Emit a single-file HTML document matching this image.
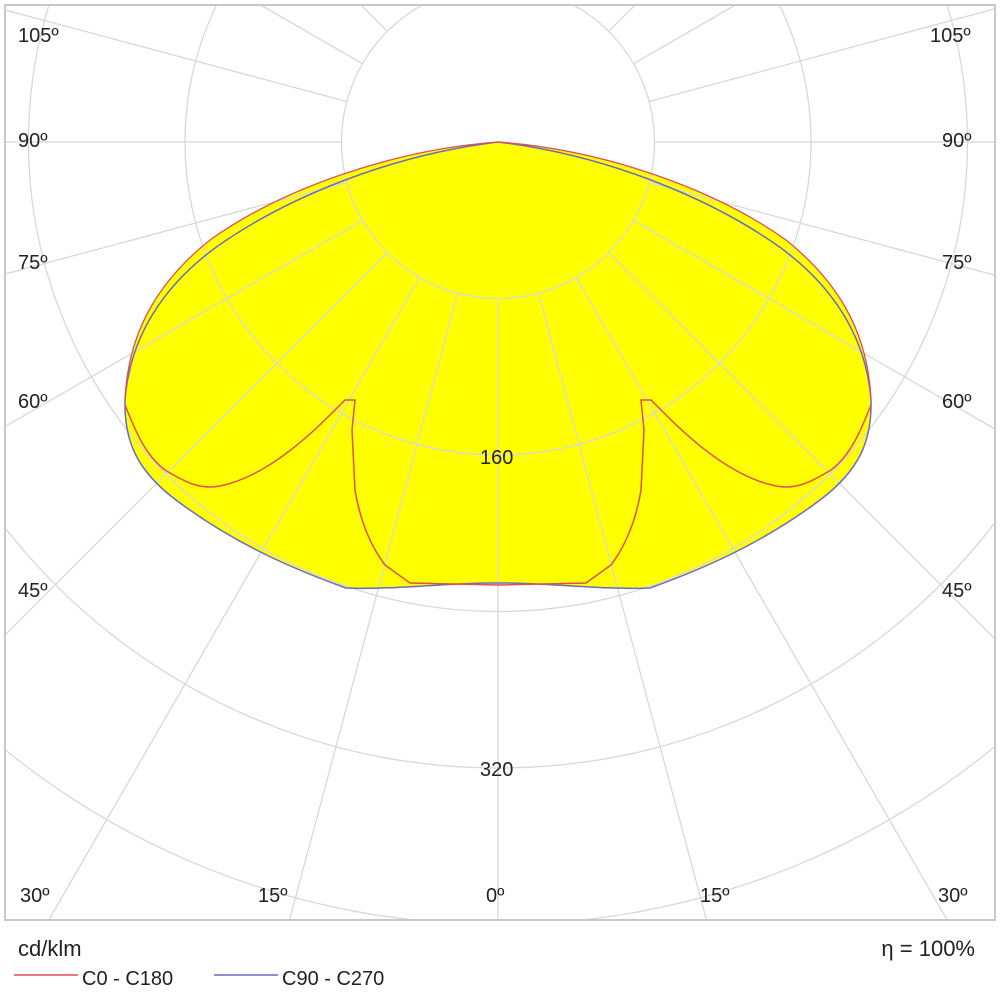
<!DOCTYPE html>
<html><head><meta charset="utf-8"><style>
html,body{margin:0;padding:0;background:#fff;width:1000px;height:1002px;overflow:hidden;}
svg{display:block;font-family:"Liberation Sans",sans-serif;}
</style></head><body>
<svg width="1000" height="1002" viewBox="0 0 1000 1002" xmlns="http://www.w3.org/2000/svg">
<defs><clipPath id="c"><rect x="5" y="5" width="990" height="915"/></clipPath></defs>
<rect x="0" y="0" width="1000" height="1002" fill="#fff"/>
<g clip-path="url(#c)">
<path fill="#ffff00" stroke="none" d="M125,400 C128,330 160,280 210,240 C280,190 390,150 498,142 C606,150 716,190 786,240 C836,280 868,330 871,400 C872,440 860,470 820,500 C760,545 700,570 650,588 C600,590 540,582 498,583 C456,582 396,590 346,588 C296,570 236,545 176,500 C136,470 124,440 125,400 Z"/>
<g stroke="#d8d8d8" stroke-width="1.3" fill="none">
<circle cx="498" cy="142" r="156.5"/>
<circle cx="498" cy="142" r="313"/>
<circle cx="498" cy="142" r="469.5"/>
<circle cx="498" cy="142" r="626"/>
<circle cx="498" cy="142" r="782.5"/>
<line x1="498" y1="298.5" x2="498" y2="920"/>
<line x1="538.5" y1="293.2" x2="706.5" y2="920"/>
<line x1="457.5" y1="293.2" x2="289.5" y2="920"/>
<line x1="576.3" y1="277.5" x2="947.2" y2="920"/>
<line x1="419.7" y1="277.5" x2="48.8" y2="920"/>
<line x1="608.7" y1="252.7" x2="995" y2="639"/>
<line x1="387.3" y1="252.7" x2="5" y2="635"/>
<line x1="633.5" y1="220.3" x2="995" y2="429"/>
<line x1="362.5" y1="220.3" x2="5" y2="426.6"/>
<line x1="649.2" y1="182.5" x2="995" y2="275.2"/>
<line x1="346.8" y1="182.5" x2="5" y2="274.1"/>
<line x1="654.5" y1="142" x2="995" y2="142"/>
<line x1="341.5" y1="142" x2="5" y2="142"/>
<line x1="649.2" y1="101.5" x2="995" y2="8.8"/>
<line x1="346.8" y1="101.5" x2="5" y2="9.9"/>
<line x1="633.5" y1="63.7" x2="735.3" y2="5"/>
<line x1="362.5" y1="63.7" x2="260.7" y2="5"/>
<line x1="608.7" y1="31.3" x2="635" y2="5"/>
<line x1="387.3" y1="31.3" x2="361" y2="5"/>
</g>
<path fill="none" stroke="#6a6ac8" stroke-width="1.5" d="M125,400 C130,335 165,285 215,248 C285,198 390,155 498,142 C606,155 711,198 781,248 C831,285 866,335 871,400 C872,440 860,470 820,500 C760,545 700,570 650,588 C600,590 540,582 498,583 C456,582 396,590 346,588 C296,570 236,545 176,500 C136,470 124,440 125,400"/>
<path fill="none" stroke="#e05050" stroke-width="1.3" d="M125,400 C128,330 160,280 210,240 C280,190 390,150 498,142 C606,150 716,190 786,240 C836,280 868,330 871,400"/>
<path fill="none" stroke="#e05050" stroke-width="1.5" d="M125,405 C135,430 145,455 165,470 C185,482 200,490 220,486 C260,478 300,445 330,415 L345,400 L355,400 L352,430 L355,490 C360,520 370,545 385,565 L410,583 L498,585 L586,583 L611,565 C626,545 636,520 641,490 L644,430 L641,400 L651,400 L666,415 C696,445 736,478 776,486 C796,490 811,482 831,470 C851,455 861,430 871,405"/>
</g>
<rect x="5" y="5" width="990" height="915" fill="none" stroke="#c8c8c8" stroke-width="2"/>
<g font-size="20" fill="#222">
<text x="18" y="42">105º</text><text x="930" y="42">105º</text>
<text x="18" y="147">90º</text><text x="942" y="147">90º</text>
<text x="18" y="269">75º</text><text x="942" y="269">75º</text>
<text x="18" y="408">60º</text><text x="942" y="408">60º</text>
<text x="18" y="597">45º</text><text x="942" y="597">45º</text>
<text x="20" y="902">30º</text><text x="938" y="902">30º</text>
<text x="258" y="902">15º</text><text x="700" y="902">15º</text>
<text x="486" y="902">0º</text>
<text x="480" y="464">160</text>
<text x="480" y="776">320</text>
<text x="18" y="956" font-size="22">cd/klm</text>
<text x="975" y="956" font-size="22" text-anchor="end">η = 100%</text>
<text x="82" y="985">C0 - C180</text>
<text x="282" y="985">C90 - C270</text>
</g>
<line x1="14" y1="975" x2="78" y2="975" stroke="#e05050" stroke-width="1.5"/>
<line x1="214" y1="975" x2="278" y2="975" stroke="#6a6ac8" stroke-width="1.5"/>
</svg>
</body></html>
